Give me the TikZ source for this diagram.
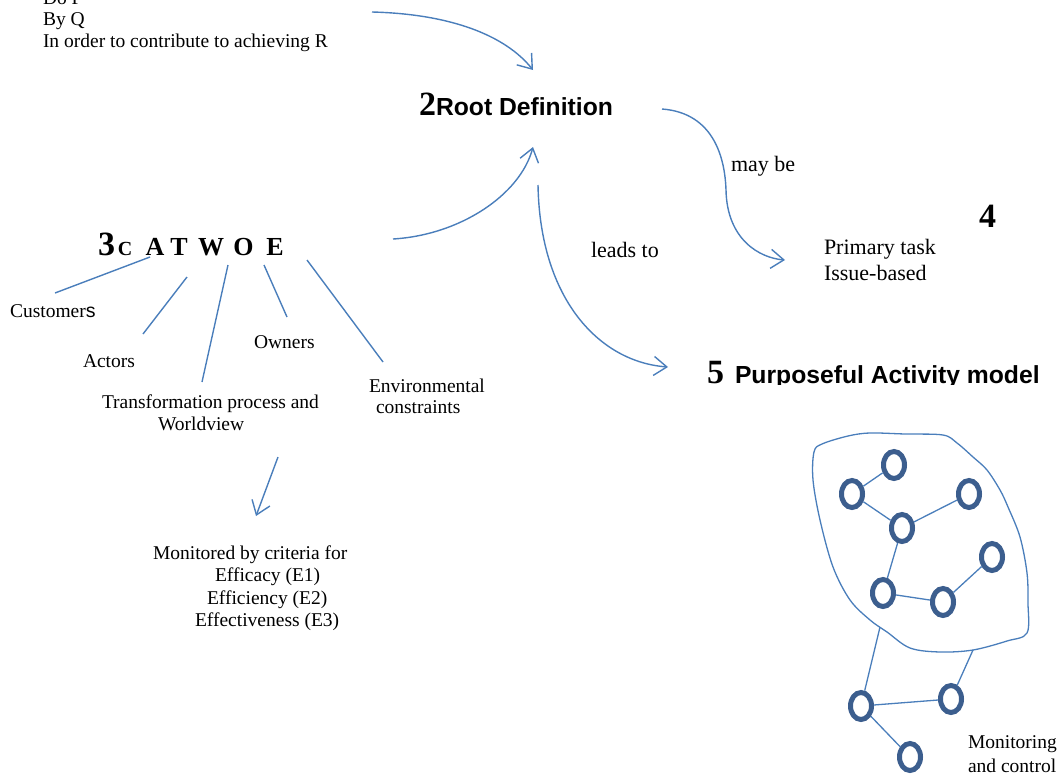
\documentclass[tikz,border=0pt]{standalone}
\usepackage{fontspec}
\setmainfont{Liberation Serif}
\newfontfamily\hsans{Liberation Sans}
\usetikzlibrary{arrows.meta,shapes.geometric}
\definecolor{arrowblue}{HTML}{4A7EBB}
\definecolor{netblue}{HTML}{3C5E8E}
\begin{document}
\begin{tikzpicture}[x=1pt,y=-1pt,
  every node/.style={inner sep=0pt, outer sep=0pt},
  lbl/.style={font=\fontsize{19.5}{21.5}\selectfont, anchor=base west},
  biglbl/.style={font=\fontsize{22}{25.7}\selectfont, anchor=base west},
  num/.style={font=\fontsize{34}{34}\selectfont\bfseries, anchor=base west},
  head/.style={font=\hsans\bfseries\fontsize{24.7}{24.7}\selectfont, anchor=base west},
  catl/.style={font=\fontsize{26}{26}\selectfont\bfseries, anchor=base},
  conn/.style={draw=arrowblue, line width=1.4pt},
  arr/.style={conn, -{Straight Barb[length=13pt,width=19pt]}},
  unit/.style={ellipse, draw=netblue, line width=5pt, minimum width=21pt, minimum height=27pt, outer sep=2.5pt},
  link/.style={draw=arrowblue, line width=1.3pt}
]
\useasboundingbox (0,0) rectangle (1062,776);

% top text
\node[lbl] (doP) at (43,4.5) {Do P};
\node[lbl] (byQ) at (43,26) {By Q};
\node[lbl] (inorder) at (43,47.5) {In order to contribute to achieving R};

% root definition
\node[num] (n2) at (419,115) {2};
\node[head] (rootdef) at (n2.base east) {Root Definition};

% CATWOE
\node[num] (n3) at (98,255) {3};
\node[font=\fontsize{20}{20}\selectfont\bfseries, anchor=base] (cC) at (125,255) {C};
\node[catl] (cA) at (155,255) {A};
\node[catl] (cT) at (179,255) {T};
\node[catl] (cW) at (211,255) {W};
\node[catl] (cO) at (243.5,255) {O};
\node[catl] (cE) at (275,255) {E};

\node[lbl] (cust) at (10,317) {Customer{\hsans s}};
\node[lbl] (act) at (83,367) {Actors};
\node[lbl] (own) at (254,348) {Owners};
\node[lbl] (trans1) at (102,408) {Transformation process and};
\node[lbl] (trans2) at (158,430) {Worldview};
\node[lbl] (env1) at (369,392) {Environmental};
\node[lbl] (env2) at (376,413) {constraints};

\coordinate (lc1) at (150,257); \coordinate (lc2) at (55,293);
\coordinate (la1) at (187,277); \coordinate (la2) at (143,334);
\coordinate (lt1) at (228,265); \coordinate (lt2) at (202,382);
\coordinate (lo1) at (264,265); \coordinate (lo2) at (287,317);
\coordinate (le1) at (307,260); \coordinate (le2) at (383,362);
\draw[conn] (lc1) -- (lc2);
\draw[conn] (la1) -- (la2);
\draw[conn] (lt1) -- (lt2);
\draw[conn] (lo1) -- (lo2);
\draw[conn] (le1) -- (le2);

% monitored
\coordinate (ms) at (278,457);
\coordinate (me) at (256,516);
\draw[arr] (ms) -- (me);
\node[lbl] (mb1) at (153,559) {Monitored by criteria for};
\node[lbl] (mb2) at (215,581.5) {Efficacy (E1)};
\node[lbl] (mb3) at (207,604) {Efficiency (E2)};
\node[lbl] (mb4) at (195,626) {Effectiveness (E3)};

% labels right
\node[biglbl] (maybe) at (731,171.5) {may be};
\node[biglbl] (leads) at (591,257) {leads to};
\node[biglbl] (pt) at (824,254) {Primary task};
\node[biglbl] (ib) at (824,280) {Issue-based};
\node[num] (n4) at (979,227) {4};

\begin{scope}
\clip (690,330) rectangle (1062,384.5);
\node[num] (n5) at (707,383) {5};
\node[head] (pam) at (735,383) {Purposeful Activity model};
\end{scope}

% arrows
\coordinate (a1s) at (372,12);   \coordinate (a1e) at (533,70);
\coordinate (a2s) at (393,239);  \coordinate (a2e) at (533,147);
\coordinate (a3s) at (538,185);  \coordinate (a3e) at (668,367);
\coordinate (a4s) at (662,109);  \coordinate (a4m) at (726,190); \coordinate (a4e) at (785,260);
\draw[arr] (a1s) .. controls (450,14) and (505,35) .. (a1e);
\draw[arr] (a2s) .. controls (460,235) and (520,195) .. (a2e);
\draw[arr] (a3s) .. controls (540,300) and (600,362) .. (a3e);
\draw[arr] (a4s) .. controls (715,113) and (725,160) .. (a4m) .. controls (727,240) and (760,258) .. (a4e);

% network blob
\draw[conn, line width=1.3pt] plot[smooth cycle, tension=0.55] coordinates {
 (848,436) (870,433) (905,434) (943,435) (957,443) (973,457) (987,470) (1000,490) (1008,507)
 (1020,537) (1027,573) (1028,603) (1027,633) (1007,641) (973,650) (940,652) (910,648)
 (887,632) (870,620) (850,600) (833,567) (820,520) (813,480) (814,452) (822,444)};

\node[unit] (c1) at (894,465) {};
\node[unit] (c2) at (852,494) {};
\node[unit] (c3) at (969,494) {};
\node[unit] (c4) at (902,528) {};
\node[unit] (c5) at (992,557) {};
\node[unit] (c6) at (883,593) {};
\node[unit] (c7) at (943,602) {};
\node[unit] (c8) at (861,706) {};
\node[unit] (c9) at (951,699) {};
\node[unit] (c10) at (910,757) {};
\coordinate (b1) at (880,627);
\coordinate (b2) at (973,650);

\draw[link] (c1) -- (c2);
\draw[link] (c2) -- (c4);
\draw[link] (c4) -- (c3);
\draw[link] (c4) -- (c6);
\draw[link] (c6) -- (c7);
\draw[link] (c7) -- (c5);
\draw[link] (c8) -- (b1);
\draw[link] (c9) -- (b2);
\draw[link] (c8) -- (c9);
\draw[link] (c8) -- (c10);

\node[lbl] (mon1) at (968,748) {Monitoring};
\node[lbl] (mon2) at (968,772) {and control};
\end{tikzpicture}
\end{document}
